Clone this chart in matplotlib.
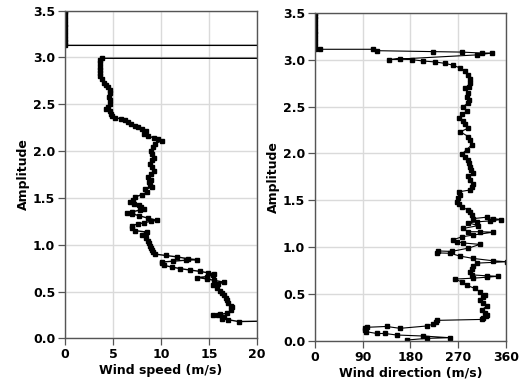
import matplotlib
matplotlib.use('Agg')
import matplotlib.pyplot as plt

# wind speed profile (m/s) vs amplitude, bottom to top
speedHeight = [0.19, 0.18, 0.20, 0.21, 0.225, 0.245, 0.25, 0.256, 0.27, 0.30, 0.33, 0.35, 0.38, 0.405,
               0.43, 0.46, 0.49, 0.51, 0.535, 0.565, 0.58, 0.60, 0.62, 0.635, 0.65, 0.66, 0.675, 0.69,
               0.70, 0.715, 0.73, 0.745, 0.76, 0.78, 0.80, 0.815, 0.825, 0.835, 0.84, 0.85, 0.87, 0.885,
               0.90, 0.92, 0.94, 0.96, 0.99, 1.02, 1.045, 1.07, 1.10, 1.12, 1.135, 1.15, 1.175, 1.205,
               1.22, 1.235, 1.25, 1.26, 1.285, 1.31, 1.33, 1.34, 1.35, 1.37, 1.385, 1.40, 1.42, 1.44,
               1.455, 1.48, 1.51, 1.535, 1.56, 1.59, 1.615, 1.64, 1.67, 1.695, 1.72, 1.75, 1.79, 1.83,
               1.865, 1.90, 1.93, 1.97, 2.00, 2.04, 2.08, 2.11, 2.13, 2.14, 2.16, 2.185, 2.21, 2.24,
               2.255, 2.27, 2.29, 2.31, 2.33, 2.345, 2.355, 2.37, 2.39, 2.43, 2.45, 2.47, 2.50, 2.54,
               2.58, 2.62, 2.65, 2.68, 2.70, 2.73, 2.77, 2.80, 2.83, 2.86, 2.90, 2.94, 2.97, 2.99,
               2.99, 3.128, 3.128, 3.16, 3.20, 3.24, 3.28, 3.32, 3.36, 3.40, 3.44, 3.48, 3.50]
speedValue = [24.0, 18.1, 17.0, 16.4, 16.6, 15.4, 15.9, 16.2, 16.9, 17.3, 17.4, 17.3, 17.0, 16.9,
              16.8, 16.6, 16.4, 16.2, 15.8, 15.4, 15.9, 16.6, 15.5, 14.8, 13.8, 14.8, 15.4, 15.5,
              14.9, 14.1, 13.0, 12.0, 11.2, 10.3, 10.1, 10.1, 11.3, 12.6, 13.8, 12.8, 11.7, 10.5,
              9.4, 9.2, 9.1, 9.0, 8.9, 8.8, 8.7, 8.4, 8.0, 8.4, 8.55, 7.33, 7.0, 6.98,
              7.6, 8.2, 9.0, 9.6, 8.6, 7.7, 7.0, 6.46, 6.98, 7.8, 8.2, 7.9, 7.7, 7.2,
              6.8, 7.1, 7.33, 8.0, 8.55, 8.3, 9.1, 8.9, 8.8, 9.0, 8.7, 9.0, 9.25, 9.1,
              8.9, 9.1, 9.3, 9.1, 9.0, 9.2, 9.4, 10.1, 9.7, 9.25, 8.7, 8.2, 8.4, 8.0,
              7.6, 7.33, 6.9, 6.6, 6.28, 5.8, 5.24, 4.9, 4.8, 4.7, 4.3, 4.5, 4.7, 4.7,
              4.6, 4.7, 4.64, 4.5, 4.3, 4.1, 3.84, 3.7, 3.6, 3.6, 3.7, 3.6, 3.7, 3.84,
              24.0, 24.0, 0.0, 0.0, 0.0, 0.0, 0.0, 0.0, 0.0, 0.0, 0.0, 0.0, 0.0]

# wind direction profile vs amplitude, bottom to top
dirHeight = [0.01, 0.028, 0.035, 0.053, 0.064, 0.08, 0.08, 0.10, 0.12, 0.135, 0.146, 0.155, 0.135,
             0.16, 0.18, 0.20, 0.22, 0.23, 0.245, 0.265, 0.28, 0.30, 0.335, 0.37, 0.405, 0.44,
             0.465, 0.49, 0.525, 0.56, 0.595, 0.63, 0.66, 0.67, 0.68, 0.69, 0.695, 0.705, 0.74,
             0.77, 0.795, 0.83, 0.845, 0.855, 0.88, 0.905, 0.935, 0.94, 0.96, 0.955, 0.99, 1.03,
             1.045, 1.06, 1.08, 1.11, 1.13, 1.16, 1.165, 1.165, 1.20, 1.23, 1.26, 1.27, 1.28,
             1.295, 1.305, 1.32, 1.305, 1.34, 1.37, 1.395, 1.43, 1.46, 1.485, 1.52, 1.556, 1.59,
             1.61, 1.64, 1.67, 1.715, 1.755, 1.79, 1.82, 1.86, 1.90, 1.93, 1.96, 1.99, 2.04,
             2.09, 2.14, 2.18, 2.23, 2.27, 2.31, 2.345, 2.38, 2.415, 2.45, 2.50, 2.54, 2.57,
             2.60, 2.64, 2.695, 2.71, 2.75, 2.79, 2.84, 2.875, 2.91, 2.94, 2.96, 2.975, 2.985,
             3.0, 3.01, 3.0, 3.05, 3.07, 3.07, 3.08, 3.085, 3.095, 3.11, 3.11, 3.11, 3.15, 3.19,
             3.23, 3.27, 3.31, 3.35, 3.39, 3.43, 3.47, 3.50]
dirValue = [173, 211, 255, 204.5, 154, 132, 116.5, 96, 95, 94.4, 97.6, 135, 160.5,
            211, 223.5, 228, 230, 315, 318, 322, 324, 320, 315, 324, 318, 311.5,
            318, 321, 311.5, 302, 286, 277, 264, 299, 324, 346, 324, 296, 292.6,
            296, 299, 305, 362, 336.6, 299, 274, 255, 230, 233, 258, 289.5, 311.5,
            280, 267.5, 261, 277, 299, 336.6, 311.5, 289.5, 280, 308, 289.5, 305, 330,
            352, 336.6, 324, 299, 296, 292, 289.5, 277, 272, 267.5, 270, 274, 271,
            292.6, 296, 299, 292, 289.5, 299, 295, 292.6, 290, 289.5, 283, 277, 286,
            296, 292, 289.5, 274, 289.5, 283, 280, 271, 278, 286, 280, 289, 291,
            287, 289.5, 283, 291, 293, 292.6, 289.5, 283, 274, 261, 245, 226.5, 204,
            182.6, 160, 140, 305, 335, 315, 277, 223, 117.6, 110, 9.4, 0, 0, 0,
            0, 0, 0, 0, 0, 0, 0, 0]

speedTicks = [0, 5, 10, 15, 20]
dirTicks = [0, 90, 180, 270, 360]
heightTicks = [0.0, 0.5, 1.0, 1.5, 2.0, 2.5, 3.0, 3.5]

plt.rcParams['font.family'] = ['DejaVu Sans']
plt.rcParams['font.weight'] = 'bold'

fig = plt.figure(figsize=(5.27, 3.92), dpi=100)
axLeft = fig.add_axes([0.1233, 0.1367, 0.3643, 0.8365])
axRight = fig.add_axes([0.5977, 0.1301, 0.3619, 0.8375])


def styleAxes(ax, ticks, xlabel):
    ax.set_xlim(ticks[0], ticks[-1])
    ax.set_ylim(0, 3.5)
    ax.set_xticks(ticks)
    ax.set_yticks(heightTicks)
    ax.set_yticklabels([f'{t:.1f}' for t in heightTicks])
    ax.grid(True, color='#dadada', linewidth=1.0)
    ax.set_axisbelow(True)
    for spine in ax.spines.values():
        spine.set_color('#555555')
        spine.set_linewidth(1.0)
    ax.tick_params(direction='out', length=5, width=0.9, color='#555555', pad=2, labelsize=9)
    ax.set_xlabel(xlabel, fontsize=9, fontweight='bold', labelpad=2)
    ax.set_ylabel('Amplitude', fontsize=9, fontweight='bold', labelpad=2)


axLeft.plot(speedValue, speedHeight, color='black', linewidth=1.0, marker='s', markersize=2.2)
styleAxes(axLeft, speedTicks, 'Wind speed (m/s)')

axRight.plot(dirValue, dirHeight, color='black', linewidth=0.8, marker='s', markersize=2.2)
styleAxes(axRight, dirTicks, 'Wind direction (m/s)')

fig.savefig('out.png', dpi=100)
